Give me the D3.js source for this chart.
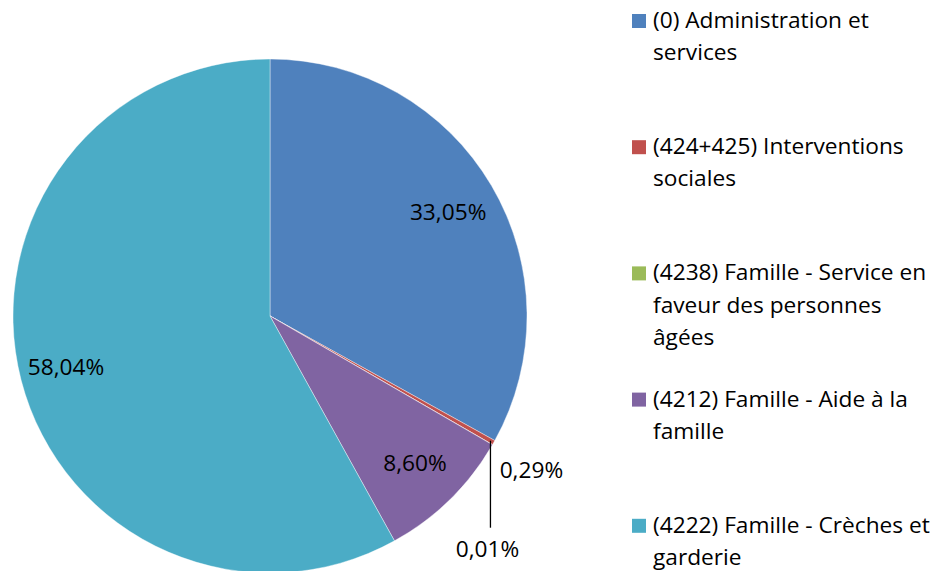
<!DOCTYPE html>
<html>
<head>
<meta charset="utf-8">
<script src="https://cdn.jsdelivr.net/npm/d3@7"></script>
<style>
  body { margin: 0; background: #fff; }
  text { font-family: "Open Sans", sans-serif; fill: #000; }
</style>
</head>
<body>
<div id="chart"></div>
<script>
var width = 947,
    height = 571;

// data
var categories = [
    "(0) Administration et services",
    "(424+425) Interventions sociales",
    "(4238) Famille - Service en faveur des personnes âgées",
    "(4212) Famille - Aide à la famille",
    "(4222) Famille - Crèches et garderie"
];
var legendLines = [
    ["(0) Administration et", "services"],
    ["(424+425) Interventions", "sociales"],
    ["(4238) Famille - Service en", "faveur des personnes", "âgées"],
    ["(4212) Famille - Aide à la", "famille"],
    ["(4222) Famille - Crèches et", "garderie"]
];
var values = [33.05, 0.29, 0.01, 8.60, 58.04];
var labels = ["33,05%", "0,29%", "0,01%", "8,60%", "58,04%"];
var colors = ["#4F81BD", "#C0504D", "#9BBB59", "#8064A2", "#4BACC6"];

var svg = d3.select("#chart")
    .append("svg")
    .attr("width", width)
    .attr("height", height);

var cx = 270, cy = 316, radius = 257;
var fontSize = "22.7px";

var pie = d3.pie().sort(null).value(function (d) { return d; });
var arcs = pie(values);

var arc = d3.arc().innerRadius(0).outerRadius(radius);
var labelArc = d3.arc().innerRadius(radius * 0.8).outerRadius(radius * 0.8);
var edgeArc = d3.arc().innerRadius(radius).outerRadius(radius);

var g = svg.append("g")
    .attr("transform", "translate(" + cx + "," + cy + ")");

g.selectAll("path.slice")
    .data(arcs)
    .enter().append("path")
    .attr("class", "slice")
    .attr("d", arc)
    .style("fill", function (d, i) { return colors[i]; })
    .style("stroke", "#fff")
    .style("stroke-width", 0.4);

// data labels
arcs.forEach(function (d, i) {
    var c;
    if (values[i] > 5) {
        c = labelArc.centroid(d);
        g.append("text")
            .attr("x", c[0] + (c[0] < 0 ? -5 : 1))
            .attr("y", c[1])
            .attr("dy", "0.35em")
            .attr("text-anchor", "middle")
            .style("font-size", fontSize)
            .text(labels[i]);
    } else if (i === 1) {
        c = edgeArc.centroid(d);
        g.append("text")
            .attr("x", c[0] + 6)
            .attr("y", c[1] + 27)
            .attr("dy", "0.35em")
            .style("font-size", fontSize)
            .text(labels[i]);
    } else {
        c = edgeArc.centroid(d);
        g.append("line")
            .attr("x1", c[0] - 2)
            .attr("y1", c[1] - 4)
            .attr("x2", c[0] - 2)
            .attr("y2", c[1] + 83)
            .style("stroke", "#000")
            .style("stroke-width", 1.3);
        g.append("text")
            .attr("x", c[0] - 5)
            .attr("y", c[1] + 104)
            .attr("dy", "0.35em")
            .attr("text-anchor", "middle")
            .style("font-size", fontSize)
            .text(labels[i]);
    }
});

// legend
var legend = svg.append("g")
    .attr("transform", "translate(632,20)");

var item = legend.selectAll("g.item")
    .data(categories)
    .enter().append("g")
    .attr("class", "item")
    .attr("transform", function (d, i) { return "translate(0," + (i * 126.2) + ")"; });

item.append("rect")
    .attr("x", 0)
    .attr("y", -6)
    .attr("width", 14)
    .attr("height", 14)
    .style("fill", function (d, i) { return colors[i]; });

item.each(function (d, i) {
    var t = d3.select(this).append("text")
        .style("font-size", fontSize);
    legendLines[i].forEach(function (line, j) {
        t.append("tspan")
            .attr("x", 21)
            .attr("y", j * 32.3)
            .attr("dy", "0.35em")
            .text(line);
    });
});
</script>
</body>
</html>
